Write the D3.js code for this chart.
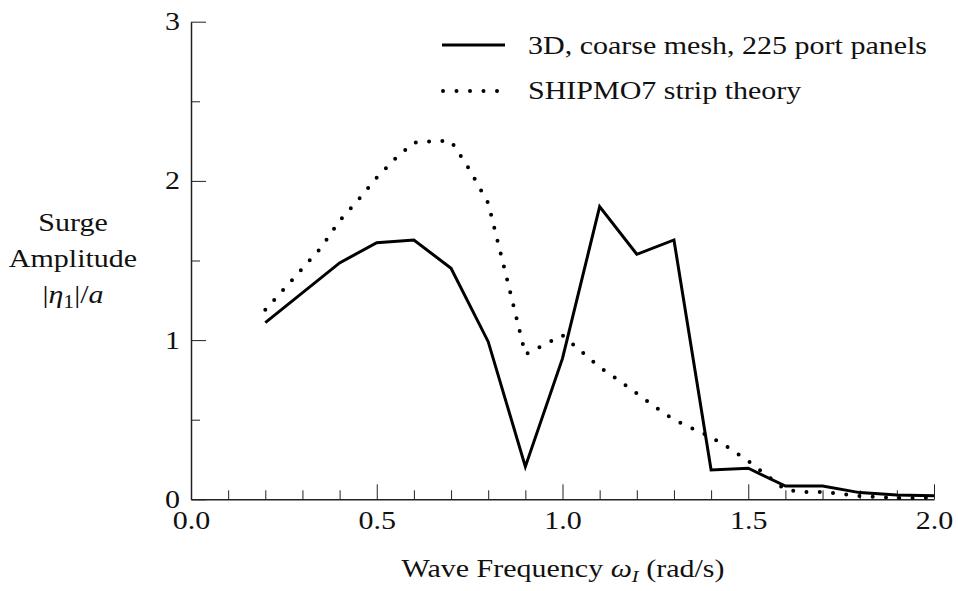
<!DOCTYPE html>
<html>
<head>
<meta charset="utf-8">
<script src="https://cdn.jsdelivr.net/npm/d3@7"></script>
<style>
  body { margin: 0; background: #fff; }
  svg { display: block; font-family: "Liberation Serif", "DejaVu Serif", serif; }
</style>
</head>
<body>
<svg id="chart" width="958" height="591"></svg>
<script>
// ---- data ----
const freq3D = [0.2, 0.4, 0.5, 0.6, 0.7, 0.8, 0.9, 1.0, 1.1, 1.2, 1.3, 1.4, 1.5, 1.6, 1.7, 1.8, 1.9, 2.0];
const amp3D  = [1.11, 1.485, 1.612, 1.629, 1.451, 0.99, 0.205, 0.885, 1.838, 1.539, 1.629, 0.184, 0.195, 0.083, 0.083, 0.042, 0.027, 0.022];

const freqStrip = [0.2, 0.25, 0.3, 0.35, 0.4, 0.45, 0.5, 0.55, 0.6, 0.65, 0.7, 0.75, 0.8, 0.85, 0.9, 0.95, 1.0, 1.05, 1.1, 1.15, 1.2, 1.25, 1.3, 1.35, 1.4, 1.45, 1.5, 1.55, 1.6, 1.65, 1.7, 1.75, 1.8, 1.85, 1.9, 1.95, 2.0];
const ampStrip  = [1.19, 1.32, 1.45, 1.58, 1.75, 1.88, 2.02, 2.14, 2.24, 2.25, 2.25, 2.07, 1.86, 1.39, 0.91, 0.97, 1.03, 0.93, 0.83, 0.75, 0.665, 0.58, 0.5, 0.445, 0.39, 0.32, 0.24, 0.15, 0.06, 0.046, 0.046, 0.035, 0.02, 0.014, 0.008, 0.008, 0.01];

const xMajorTicks = [0, 0.5, 1.0, 1.5, 2.0];
const xMinorTicks = [0.1, 0.2, 0.3, 0.4, 0.6, 0.7, 0.8, 0.9, 1.1, 1.2, 1.3, 1.4, 1.6, 1.7, 1.8, 1.9];
const yMajorTicks = [0, 1, 2, 3];
const yMinorTicks = [0.5, 1.5, 2.5];

const seriesNames = ["3D, coarse mesh, 225 port panels", "SHIPMO7 strip theory"];

// ---- drawing ----
const svg = d3.select("#chart");
const x = d3.scaleLinear().domain([0, 2]).range([191, 934]);
const y = d3.scaleLinear().domain([0, 3]).range([499.3, 21.7]);
const FS = 25;
const SX = 1.2; // horizontal text stretch seen in the reference

// x axis (major, with labels, inward ticks)
const gx = svg.append("g").attr("transform", `translate(0,${y(0)})`)
  .call(d3.axisBottom(x).tickValues(xMajorTicks).tickFormat(d3.format(".1f"))
    .tickSizeInner(-15).tickSizeOuter(0).tickPadding(12));
gx.select(".domain").attr("stroke", "#222").attr("stroke-width", 1.5);
gx.selectAll(".tick line").attr("stroke", "#222").attr("stroke-width", 1);
gx.selectAll(".tick text").attr("font-size", FS).attr("font-family", "Liberation Serif").attr("fill", "#111");

const gxm = svg.append("g").attr("transform", `translate(0,${y(0)})`)
  .call(d3.axisBottom(x).tickValues(xMinorTicks).tickFormat("").tickSizeInner(-9).tickSizeOuter(0));
gxm.select(".domain").remove();
gxm.selectAll(".tick line").attr("stroke", "#222").attr("stroke-width", 1);

// y axis
const gy = svg.append("g").attr("transform", `translate(${x(0)},0)`)
  .call(d3.axisLeft(y).tickValues(yMajorTicks).tickFormat(d3.format("d"))
    .tickSizeInner(-15).tickSizeOuter(0).tickPadding(11));
gy.select(".domain").attr("stroke", "#222").attr("stroke-width", 1.5);
gy.selectAll(".tick line").attr("stroke", "#222").attr("stroke-width", 1);
gy.selectAll(".tick text").attr("font-size", FS).attr("font-family", "Liberation Serif").attr("fill", "#111");

const gym = svg.append("g").attr("transform", `translate(${x(0)},0)`)
  .call(d3.axisLeft(y).tickValues(yMinorTicks).tickFormat("").tickSizeInner(-9).tickSizeOuter(0));
gym.select(".domain").remove();
gym.selectAll(".tick line").attr("stroke", "#222").attr("stroke-width", 1);

// lines
const line3D = d3.line().x((d, i) => x(freq3D[i])).y(d => y(d));
svg.append("path").attr("d", line3D(amp3D))
  .attr("fill", "none").attr("stroke", "#000").attr("stroke-width", 3)
  .attr("stroke-linejoin", "miter");

const lineStrip = d3.line().x((d, i) => x(freqStrip[i])).y(d => y(d));
svg.append("path").attr("d", lineStrip(ampStrip))
  .attr("fill", "none").attr("stroke", "#000").attr("stroke-width", 4)
  .attr("stroke-linecap", "round").attr("stroke-dasharray", "0 13.3");

// legend
const leg = svg.append("g");
leg.append("line").attr("x1", 442).attr("x2", 505).attr("y1", 45).attr("y2", 45)
  .attr("stroke", "#000").attr("stroke-width", 3);
leg.append("line").attr("x1", 443).attr("x2", 498).attr("y1", 91).attr("y2", 91)
  .attr("stroke", "#000").attr("stroke-width", 4)
  .attr("stroke-linecap", "round").attr("stroke-dasharray", "0 13.5");
leg.append("text").attr("x", 528).attr("y", 54).attr("font-size", FS).attr("fill", "#111").text(seriesNames[0]);
leg.append("text").attr("x", 528).attr("y", 99).attr("font-size", FS).attr("fill", "#111").text(seriesNames[1]);

// y title
const yt = svg.append("g").attr("font-size", FS).attr("fill", "#111").attr("text-anchor", "middle");
yt.append("text").attr("x", 73).attr("y", 231).text("Surge");
yt.append("text").attr("x", 73).attr("y", 267).text("Amplitude");
const t3 = yt.append("text").attr("x", 73).attr("y", 303);
t3.append("tspan").text("|");
t3.append("tspan").attr("font-style", "italic").text("η");
t3.append("tspan").attr("font-size", 18).attr("dy", 5).text("1");
t3.append("tspan").attr("dy", -5).text("|/");
t3.append("tspan").attr("font-style", "italic").text("a");

// x title
const xt = svg.append("text").attr("x", 563).attr("y", 577).attr("font-size", FS)
  .attr("fill", "#111").attr("text-anchor", "middle");
xt.append("tspan").text("Wave Frequency ");
xt.append("tspan").attr("font-style", "italic").text("ω");
xt.append("tspan").attr("font-style", "italic").attr("font-size", 17).attr("dy", 5).text("I");
xt.append("tspan").attr("dy", -5).text(" (rad/s)");

// stretch all text horizontally around its anchor point
svg.selectAll("text").each(function () {
  const t = d3.select(this);
  const tx = +t.attr("x") || 0, ty = +t.attr("y") || 0;
  t.attr("x", 0).attr("y", 0).attr("transform", `translate(${tx},${ty}) scale(${SX},1)`);
});
</script>
</body>
</html>
